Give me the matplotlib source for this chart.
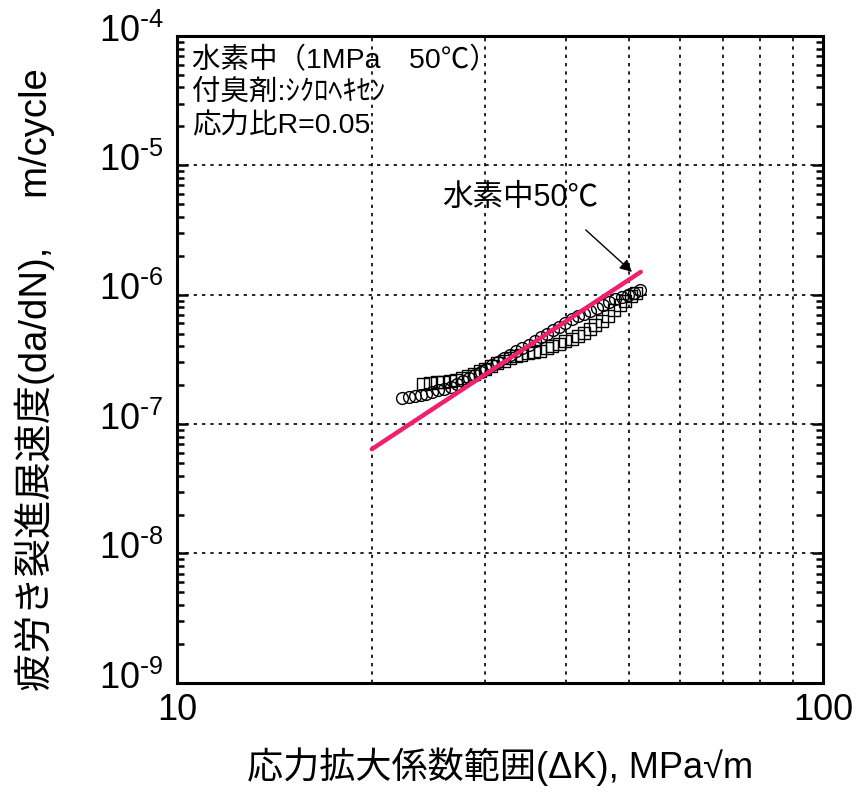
import numpy as np
import matplotlib
matplotlib.use("Agg")
import matplotlib.pyplot as plt
from matplotlib.ticker import LogLocator, NullFormatter
from matplotlib.transforms import ScaledTranslation

plt.rcParams['font.family'] = ['Liberation Sans', 'Noto Sans CJK JP']
plt.rcParams['mathtext.default'] = 'regular'

# data
dk_circle = [22.3, 22.8, 23.3, 23.8, 24.3, 24.8, 25.3, 25.9, 26.5, 27.1,
             27.7, 28.3, 28.9, 29.5, 30.1, 30.7, 31.4, 32.1, 32.8, 33.5,
             34.2, 35.0, 35.8, 36.6, 37.4, 38.2, 39.0, 39.9, 40.8, 41.7,
             42.6, 43.6, 44.6, 45.6, 46.6, 47.7, 48.8, 49.9, 51.0, 52.0]
dadn_circle = [1.60, 1.62, 1.64, 1.68, 1.72, 1.78, 1.82, 1.88, 1.95, 2.03,
               2.15, 2.28, 2.40, 2.52, 2.66, 2.85, 3.02, 3.22, 3.45, 3.65,
               3.85, 4.10, 4.40, 4.70, 5.00, 5.30, 5.60, 6.00, 6.45, 6.80,
               7.10, 7.50, 7.95, 8.40, 8.80, 9.20, 9.60, 10.0, 10.4, 10.8]

dk_square = [24.0, 24.6, 25.2, 25.8, 26.4, 27.0, 27.6, 28.2, 28.8, 29.4,
             30.0, 30.6, 31.3, 32.0, 32.7, 33.4, 34.1, 34.9, 35.7, 36.5,
             37.3, 38.1, 39.0, 39.9, 40.8, 41.7, 42.6, 43.5, 44.4, 45.4,
             46.4, 47.4, 48.4, 49.4, 50.4, 51.4]
dadn_square = [2.05, 2.08, 2.10, 2.12, 2.15, 2.20, 2.28, 2.35, 2.45, 2.55,
               2.68, 2.80, 2.95, 3.10, 3.25, 3.35, 3.45, 3.55, 3.60, 3.70,
               3.85, 4.00, 4.15, 4.35, 4.55, 4.80, 5.10, 5.40, 5.80, 6.30,
               6.90, 7.60, 8.30, 9.00, 9.70, 10.3]

# fitted line (hydrogen 50C)
dk_fit = [20.0, 52.2]
dadn_fit = [6.4e-8, 1.50e-6]

x_ticks = [10, 100]
x_ticklabels = ['10', '100']
y_exps = [-9, -8, -7, -6, -5, -4]
y_ticks = [10.0 ** e for e in y_exps]
y_ticklabels = [r'$10^{\text{-}%d}$' % -e for e in y_exps]

fig = plt.figure(figsize=(8.67, 7.94), dpi=100)
ax = fig.add_axes([0.2047, 0.140, 0.7445, 0.8147])

ax.set_xscale('log')
ax.set_yscale('log')
ax.set_xlim(10, 100)
ax.set_ylim(1e-9, 1e-4)

ax.plot(dk_circle, np.array(dadn_circle) * 1e-7, 'o', ms=8.5, mfc='none',
        mec='black', mew=1.0, zorder=3)
ax.plot(dk_square, np.array(dadn_square) * 1e-7, 's', ms=8.5, mfc='none',
        mec='black', mew=1.0, zorder=3)
ax.plot(dk_fit, dadn_fit, color='#f0206e', lw=3.2, solid_capstyle='round', zorder=4)

# ticks and dotted grid (y decades, x minors)
ax.set_yticks(y_ticks)
ax.set_yticklabels(y_ticklabels)
ax.yaxis.set_minor_locator(LogLocator(base=10, subs=np.arange(2, 10), numticks=20))
ax.yaxis.set_minor_formatter(NullFormatter())
ax.set_xticks(x_ticks)
ax.set_xticklabels(x_ticklabels)
ax.xaxis.set_minor_locator(LogLocator(base=10, subs=np.arange(2, 10), numticks=20))
ax.xaxis.set_minor_formatter(NullFormatter())
ax.grid(True, which='major', axis='y', color='black', lw=1.2, ls=(0, (2, 3)))
ax.grid(True, which='minor', axis='x', color='black', lw=1.2, ls=(0, (2, 3)))

for s in ax.spines.values():
    s.set_linewidth(2.2)
ax.tick_params(which='both', direction='in', top=True, right=True, width=1.8)
ax.tick_params(which='major', length=8, labelsize=26)
ax.tick_params(axis='y', which='major', pad=10)
ax.tick_params(axis='x', which='major', pad=7)
ax.tick_params(which='minor', length=5)
ax.tick_params(axis='x', which='minor', length=0)

# y tick labels sit a little above their ticks in the original
shift = ScaledTranslation(0, 6 / 72, fig.dpi_scale_trans)
for lab in ax.get_yticklabels():
    lab.set_transform(lab.get_transform() + shift)

ax.set_xlabel('応力拡大係数範囲(ΔK), MPa√m', fontsize=26, labelpad=14)
ax.set_ylabel('疲労き裂進展速度(da/dN),\u3000 m/cycle', fontsize=27.5)
ax.yaxis.set_label_coords(-0.19, 0.468)

ax.text(0.022, 0.982, '水素中（1MPa\u300050℃）\n付臭剤:ｼｸﾛﾍｷｾﾝ\n応力比R=0.05',
        transform=ax.transAxes, ha='left', va='top', fontsize=20.5, linespacing=1.25)

ax.text(34.0, 5.6e-6, '水素中50℃', fontsize=22, ha='center', va='center')
ax.annotate('', xy=(50.6, 1.5e-6), xytext=(42.9, 3.17e-6),
            arrowprops=dict(arrowstyle='-|>', color='black', lw=1.0,
                            mutation_scale=18, shrinkA=0, shrinkB=0))

fig.savefig('out.png', dpi=100)
